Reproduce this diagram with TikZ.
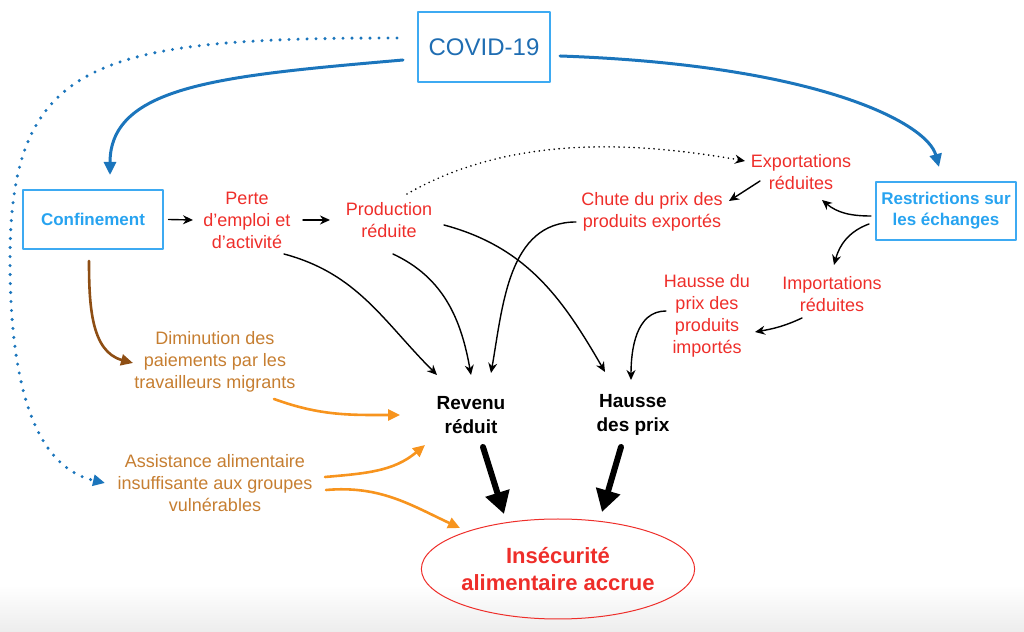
\documentclass[tikz,border=0pt]{standalone}
\usepackage{fontspec}
\setmainfont{Liberation Sans}
\usetikzlibrary{arrows.meta,shapes.geometric}
\definecolor{virus}{HTML}{1F6DB2}
\definecolor{cadre}{HTML}{3DAAF2}
\definecolor{cyanb}{HTML}{27A3F0}
\definecolor{fleche}{HTML}{1B75BC}
\definecolor{rouge}{HTML}{EE2E2A}
\definecolor{ocre}{HTML}{C67E31}
\definecolor{orangef}{HTML}{F7941E}
\definecolor{brun}{HTML}{8E4E14}
\begin{document}
\begin{tikzpicture}[line cap=round,line join=round,>={Stealth[length=10pt,width=9pt]},x=1pt,y=1pt,
txt/.style={align=center,inner sep=0pt,font=\fontsize{18}{22}\selectfont},
gras/.style={align=center,inner sep=0pt,font=\bfseries\fontsize{19}{24}\selectfont},
boite/.style={draw=cadre,line width=1.2pt,text=cyanb,align=center,font=\bfseries\fontsize{17}{21}\selectfont},
fin/.style={->,line width=1.4pt},
bleu/.style={-{Triangle[length=13pt,width=12pt]},draw=fleche,line width=3pt},
pointille/.style={-{Triangle[length=12pt,width=11pt]},draw=fleche,line width=3.4pt,dash pattern=on 0pt off 9pt},
filorange/.style={-{Triangle[length=12pt,width=11pt]},draw=orangef,line width=2.6pt},
gros/.style={-{Triangle[length=22pt,width=24pt]},line width=6pt}]
\shade[top color=white,bottom color=black!7] (0,0) rectangle (1024,46);
\useasboundingbox (0,0) rectangle (1024,631);
\node[boite,text=virus,font=\fontsize{24}{28}\selectfont,minimum width=132pt,minimum height=70pt] (covid) at (484,584) {COVID-19};
\node[boite,minimum width=140pt,minimum height=59pt] (conf) at (93,411.5) {Confinement};
\node[boite,minimum width=140pt,minimum height=58pt] (restr) at (946,420) {Restrictions sur\\les échanges};
\node[txt,text=rouge] (perte) at (247,411) {Perte\\d'emploi et\\d'activité};
\node[txt,text=rouge] (prod) at (389,411) {Production\\réduite};
\node[txt,text=rouge] (export) at (801,459) {Exportations\\réduites};
\node[txt,text=rouge] (chute) at (652,419) {Chute du prix des\\produits exportés};
\node[txt,text=rouge] (hprix) at (707,315) {Hausse du\\prix des\\produits\\importés};
\node[txt,text=rouge] (import) at (832,337) {Importations\\réduites};
\node[txt,text=ocre] (dimin) at (215,269) {Diminution des\\paiements par les\\travailleurs migrants};
\node[txt,text=ocre] (assist) at (215,148) {Assistance alimentaire\\insuffisante aux groupes\\vulnérables};
\node[gras] (revenu) at (471,216) {Revenu\\réduit};
\node[gras] (hausse) at (633,216) {Hausse\\des prix};
\node[ellipse,draw=rouge,line width=1pt,text=rouge,align=center,inner sep=0pt,minimum width=228pt,minimum height=100pt,font=\bfseries\fontsize{22}{27}\selectfont] (insec) at (558,62) {Insécurité\\alimentaire accrue};
\draw[bleu] ([shift={(-81,-13)}]covid.center) to[out=185,in=90,out distance=180pt,in distance=90pt] ([shift={(17,44.5)}]conf.center);
\draw[bleu] ([shift={(76,-9)}]covid.center) to[out=-2,in=105,out distance=260pt,in distance=45pt] ([shift={(-7,44)}]restr.center);
\draw[pointille] ([shift={(-87,9)}]covid.center) to[out=180,in=90,out distance=300pt,in distance=200pt] (10,371) to[out=-90,in=167,out distance=160pt,in distance=56pt] ([shift={(-110,0)}]assist.center);
\draw[fin,dash pattern=on 0pt off 5pt,line width=1.8pt] ([shift={(18,26)}]prod.center) to[out=30,in=170,out distance=120pt,in distance=110pt] ([shift={(-56,11)}]export.center);
\draw[fin] ([xshift=5pt]conf.east) -- ([xshift=-54pt]perte.center);
\draw[fin] ([xshift=56pt]perte.center) -- ([xshift=-59pt]prod.center);
\draw[fin] ([shift={(37,-34)}]perte.center) to[out=-15,in=135] ([shift={(-34,40)}]revenu.center);
\draw[fin] ([shift={(4,-34)}]prod.center) to[out=-25,in=100] ([shift={(0,40)}]revenu.center);
\draw[fin] ([shift={(-76,-10)}]chute.center) to[out=180,in=80] ([shift={(20,42)}]revenu.center);
\draw[fin] ([shift={(55,-5)}]prod.center) to[out=-15,in=120] ([shift={(-28,43)}]hausse.center);
\draw[fin] ([shift={(-41,5)}]hprix.center) to[out=180,in=90] ([shift={(-2,35)}]hausse.center);
\draw[fin] ([shift={(-30,-24)}]import.center) to[out=205,in=10] ([shift={(48,-16)}]hprix.center);
\draw[fin] ([shift={(-75,-5)}]restr.center) to[out=180,in=-40] ([shift={(21,-28)}]export.center);
\draw[fin] ([shift={(-77,-13)}]restr.center) to[out=200,in=75] ([shift={(2,29)}]import.center);
\draw[fin] ([shift={(-41,-9)}]export.center) -- ([shift={(77,11)}]chute.center);
\draw[-{Triangle[length=12pt,width=11pt]},draw=brun,line width=2.6pt] ([shift={(-4,-41.5)}]conf.center) to[out=-90,in=165] ([shift={(-82,-1)}]dimin.center);
\draw[filorange] ([shift={(59,-37)}]dimin.center) to[out=-20,in=180] ([shift={(-71,0)}]revenu.center);
\draw[filorange] ([shift={(110,6)}]assist.center) to[out=5,in=220] ([shift={(-46,-30)}]revenu.center);
\draw[filorange] ([shift={(111,-7)}]assist.center) to[out=5,in=155] ([shift={(-98,41)}]insec.center);
\draw[gros] ([shift={(12,-32)}]revenu.center) -- ([shift={(-54,55)}]insec.center);
\draw[gros] ([shift={(-12,-32)}]hausse.center) -- ([shift={(44,57)}]insec.center);
\end{tikzpicture}
\end{document}
